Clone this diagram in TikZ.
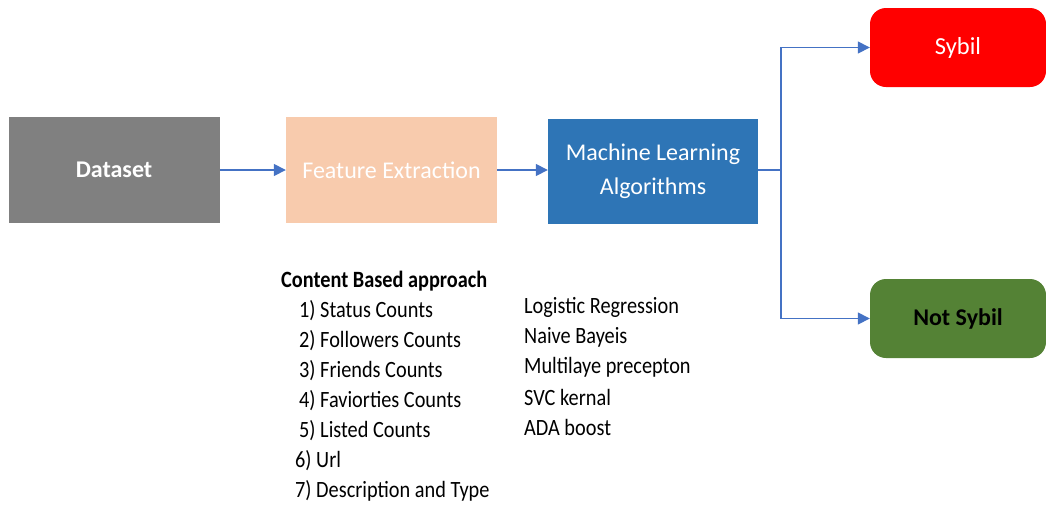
\documentclass[tikz,border=0pt]{standalone}
\usepackage{fontspec}
\setmainfont{Carlito}
\usepackage{tikz}
\usetikzlibrary{arrows.meta, positioning}
\definecolor{dsgray}{RGB}{128,128,128}
\definecolor{fepeach}{RGB}{248,203,173}
\definecolor{mlblue}{RGB}{46,117,182}
\definecolor{sybred}{RGB}{255,0,0}
\definecolor{nsgreen}{RGB}{84,130,53}
\definecolor{linkblue}{RGB}{68,114,196}
\newcommand{\tall}[1]{\scalebox{1}[1.15]{#1}}
\tikzset{
  stage/.style={rectangle, inner sep=0pt, minimum width=211pt,
    minimum height=106pt, align=center, text=white,
    font=\fontsize{24}{34}\selectfont},
  verdict/.style={rectangle, rounded corners=16pt, inner sep=0pt,
    minimum width=176pt, minimum height=79pt,
    font=\fontsize{24.5}{28}\selectfont},
  listtext/.style={anchor=west, inner sep=0pt,
    font=\fontsize{20.3}{24}\selectfont},
  arrow/.style={-{Triangle[length=12pt, width=12pt]}, line width=1.5pt,
    color=linkblue}
}

\begin{document}
\begin{tikzpicture}[x=1pt, y=-1pt]
  \useasboundingbox (0,0) rectangle (1046,504);

  % --- pipeline stages ---
  \node[stage, fill=dsgray, font=\fontsize{24}{28}\selectfont\bfseries]
    (dataset) at (114,170) {Dataset};
  \node[stage, fill=fepeach] (feature) at (391.5,170) {Feature Extraction};
  \node[stage, fill=mlblue, minimum width=210pt, minimum height=105pt]
    (ml) at (653,171) {Machine Learning\\Algorithms};

  % --- outcomes ---
  \node[verdict, fill=sybred, text=white] (sybil) at (958,47.5) {Sybil};
  \node[verdict, fill=nsgreen, font=\fontsize{24}{28}\selectfont\bfseries]
    (notsybil) at (958,318.5) {Not Sybil};

  % --- connectors ---
  \coordinate (split) at (781,170);
  \draw[arrow] (dataset.east) -- (feature.west);
  \draw[arrow] (feature.east) -- (ml.west |- feature.east);
  \draw[line width=1.5pt, linkblue] (ml.east |- split) -- (split);
  \draw[arrow] (split) |- (sybil.west);
  \draw[arrow] (split) |- (notsybil.west);

  % --- features used ---
  \node[listtext, font=\fontsize{20.3}{24}\selectfont\bfseries]
    (content) at (281,281) {\tall{Content Based approach}};
  \node[listtext] (f1) at (299,311) {\tall{1) Status Counts}};
  \node[listtext] (f2) at (299,341) {\tall{2) Followers Counts}};
  \node[listtext] (f3) at (299,371) {\tall{3) Friends Counts}};
  \node[listtext] (f4) at (299,401) {\tall{4) Faviorties Counts}};
  \node[listtext] (f5) at (299,431) {\tall{5) Listed Counts}};
  \node[listtext] (f6) at (295,461) {\tall{6) Url}};
  \node[listtext] (f7) at (295,491) {\tall{7) Description and Type}};

  % --- classifiers ---
  \node[listtext] (c1) at (524,307) {\tall{Logistic Regression}};
  \node[listtext] (c2) at (524,337) {\tall{Naive Bayeis}};
  \node[listtext] (c3) at (524,367) {\tall{Multilaye precepton}};
  \node[listtext] (c4) at (524,397) {\tall{SVC kernal}};
  \node[listtext] (c5) at (524,427) {\tall{ADA boost}};
\end{tikzpicture}
\end{document}
